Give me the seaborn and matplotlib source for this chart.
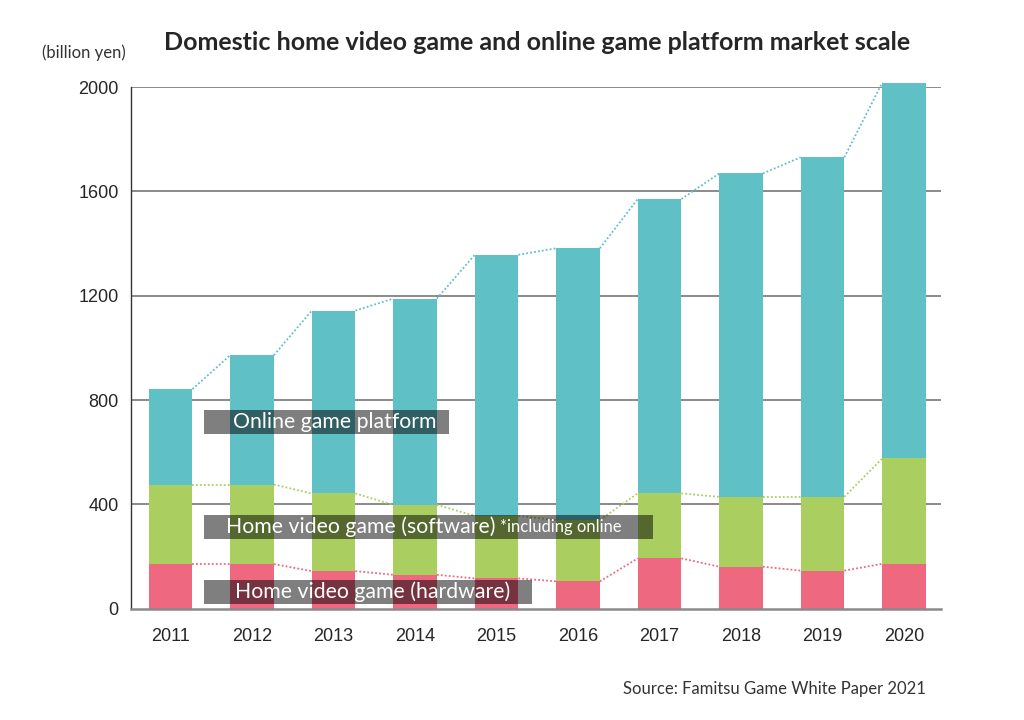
import numpy as np
import pandas as pd
import seaborn as sns
import matplotlib.pyplot as plt

# values (billion yen)
years = ["2011", "2012", "2013", "2014", "2015", "2016", "2017", "2018", "2019", "2020"]
hardware = [171, 171, 144, 130, 116, 105, 193, 161, 146, 172]
software = [305, 305, 298, 268, 240, 235, 249, 268, 283, 404]
online = [366, 496, 701, 791, 1001, 1042, 1129, 1240, 1302, 1441]
y_ticks = [0, 400, 800, 1200, 1600, 2000]

c_online = "#5FC0C5"
c_soft = "#AACF60"
c_hard = "#EE6880"

df = pd.DataFrame({"year": years, "hardware": hardware,
                   "software": software, "online": online})
df["sw_top"] = df["hardware"] + df["software"]
df["total"] = df["sw_top"] + df["online"]

sns.set_style("white")
plt.rcParams["font.family"] = ["Lato", "DejaVu Sans"]

fig = plt.figure(figsize=(10.24, 7.2), dpi=100)
ax = fig.add_axes([0.128, 0.1546, 0.791, 0.7244])

for y in y_ticks[1:]:
    ax.axhline(y, color="#8a8a8a", lw=1.4, zorder=0)

w = 0.535
# stacked bars drawn as overlapping cumulative layers
sns.barplot(data=df, x="year", y="total", color=c_online, width=w,
            saturation=1, ax=ax, clip_on=False, zorder=2, linewidth=0)
sns.barplot(data=df, x="year", y="sw_top", color=c_soft, width=w,
            saturation=1, ax=ax, zorder=3, linewidth=0)
sns.barplot(data=df, x="year", y="hardware", color=c_hard, width=w,
            saturation=1, ax=ax, zorder=4, linewidth=0)

# dotted connectors between bar tops
for col, c in [("total", c_online), ("sw_top", c_soft), ("hardware", c_hard)]:
    vals = df[col].values
    for i in range(len(vals) - 1):
        ax.plot([i + w / 2, i + 1 - w / 2], [vals[i], vals[i + 1]],
                ls=(0, (1, 1.2)), lw=1.3, color=c, zorder=1, clip_on=False)

ax.set_xlim(-0.485, 9.454)
ax.set_ylim(0, 2000)
ax.set_yticks(y_ticks)
ax.set_xlabel("")
ax.set_ylabel("")
ax.tick_params(length=0, labelsize=13)
for lab in ax.get_xticklabels() + ax.get_yticklabels():
    lab.set_family(["Liberation Sans", "DejaVu Sans"])
ax.tick_params(axis="x", pad=14)
ax.tick_params(axis="y", pad=9)

for s in ["top", "right"]:
    ax.spines[s].set_visible(False)
ax.spines["left"].set_color("#333333")
ax.spines["left"].set_linewidth(1.0)
ax.spines["bottom"].set_color("#8a8a8a")
ax.spines["bottom"].set_linewidth(1.8)
ax.spines["bottom"].set_zorder(5)

# series labels on dark translucent boxes
def label_box(x0, x1, y0, y1, text_x, parts):
    ax.add_patch(plt.Rectangle((x0, y0), x1 - x0, y1 - y0, transform=fig.transFigure,
                               fc="black", ec="none", alpha=0.5, zorder=6))
    x = text_x
    for txt, size in parts:
        t = fig.text(x, (y0 + y1) / 2, txt, color="white", fontsize=size,
                     va="center", ha="left", zorder=7)
        fig.canvas.draw()
        bb = t.get_window_extent()
        x = bb.x1 / fig.bbox.width + 0.004

W, H = 1024, 720
label_box(204 / W, 449 / W, 1 - 434 / H, 1 - 410 / H, 233 / W,
          [("Online game platform", 15.3)])
label_box(204 / W, 653 / W, 1 - 539 / H, 1 - 515 / H, 226 / W,
          [("Home video game (software)", 15.3), ("*including online", 11.9)])
label_box(204 / W, 532 / W, 1 - 604 / H, 1 - 580 / H, 235 / W,
          [("Home video game (hardware)", 15.3)])

fig.text(537 / W, 1 - 42 / H,
         "Domestic home video game and online game platform market scale",
         ha="center", va="center", fontsize=18, fontweight="bold")
fig.text(42 / W, 1 - 53 / H, "(billion yen)", ha="left", va="center",
         fontsize=12, color="#333333")
fig.text(926 / W, 1 - 689 / H, "Source: Famitsu Game White Paper 2021",
         ha="right", va="center", fontsize=12, color="#333333")

fig.savefig("out.png", dpi=100)
